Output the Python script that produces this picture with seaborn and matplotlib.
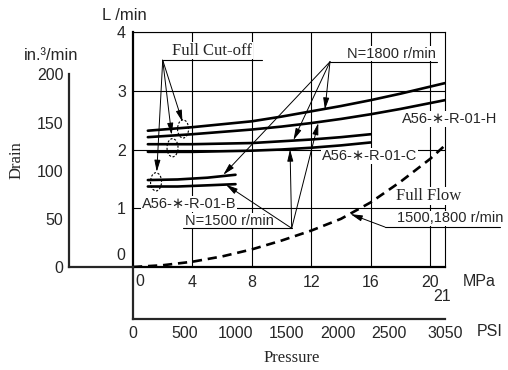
import numpy as np
import pandas as pd
import seaborn as sns
import matplotlib
matplotlib.use("Agg")
from matplotlib import pyplot as plt
from matplotlib.patches import Ellipse

# values: pressure (MPa) -> drain (L/min)
h_press = [1, 4, 8, 10, 12, 14, 16, 18, 21]
h_1800 = [2.32, 2.38, 2.48, 2.56, 2.65, 2.74, 2.84, 2.95, 3.13]
h_1500 = [2.21, 2.26, 2.34, 2.39, 2.45, 2.52, 2.60, 2.69, 2.84]
c_press = [1, 4, 8, 10, 12, 14, 16]
c_1800 = [2.09, 2.09, 2.11, 2.14, 2.17, 2.21, 2.26]
c_1500 = [1.96, 1.96, 1.98, 2.00, 2.03, 2.07, 2.12]
b_press = [1, 3, 5, 6.9]
b_1800 = [1.48, 1.49, 1.52, 1.57]
b_1500 = [1.37, 1.37, 1.39, 1.41]
flow_press = [0, 2, 4, 6, 8, 10, 12, 14, 16, 18, 20, 21]
flow_drain = [0, 0.03, 0.09, 0.18, 0.30, 0.45, 0.62, 0.82, 1.10, 1.45, 1.84, 2.07]

mpa_ticks = [4, 8, 12, 16, 20]
lmin_ticks = [1, 2, 3, 4]
in3_ticks = [0, 50, 100, 150, 200]
psi_ticks = [0, 500, 1000, 1500, 2000, 2500]
L_TO_IN3 = 61.024
MPA_TO_PSI = 145.04
PSI_MAX = 21 * MPA_TO_PSI

SANS = ['Liberation Sans', 'DejaVu Sans']
SERIF = ['Liberation Serif', 'DejaVu Serif']

sns.set_style("white")
plt.rcParams['font.family'] = SANS

W, H = 508, 370
fig = plt.figure(figsize=(W / 100, H / 100), dpi=100)
ax = fig.add_axes([133 / W, 103 / H, 312 / W, 235 / H])

# curves
curves = pd.DataFrame({
    'press': h_press + h_press + c_press + c_press + b_press + b_press,
    'drain': h_1800 + h_1500 + c_1800 + c_1500 + b_1800 + b_1500,
    'curve': (['H1800'] * len(h_press) + ['H1500'] * len(h_press)
              + ['C1800'] * len(c_press) + ['C1500'] * len(c_press)
              + ['B1800'] * len(b_press) + ['B1500'] * len(b_press)),
})
sns.lineplot(data=curves, x='press', y='drain', units='curve', estimator=None,
             color='black', lw=1.9, ax=ax, zorder=3)
sns.lineplot(x=flow_press, y=flow_drain, color='black', lw=1.9,
             linestyle=(0, (3.5, 2.2)), ax=ax, zorder=3)

ax.set_xlim(0, 21)
ax.set_ylim(0, 4)
ax.set_xlabel('')
ax.set_ylabel('')
for s in ['top', 'right']:
    ax.spines[s].set_linewidth(0.8)
for s in ['left', 'bottom']:
    ax.spines[s].set_linewidth(1.6)
for s in ax.spines.values():
    s.set_color('black')

ax.set_xticks(mpa_ticks)
ax.set_xticks([2, 6, 10, 14, 18], minor=True)
ax.set_yticks(lmin_ticks)
ax.set_yticks(np.arange(0.2, 4, 0.2), minor=True)
ax.tick_params(which='major', direction='in', length=0, labelsize=11.5)
ax.tick_params(axis='x', which='major', pad=6)
ax.tick_params(axis='y', which='major', pad=5)
ax.tick_params(which='minor', direction='in', length=4.3, width=0.8, color='black')
ax.grid(True, which='major', color='black', lw=0.8)
ax.set_axisbelow(True)
ax.text(0.47, -0.255, '0', ha='center', va='center', fontsize=11.5)
ax.text(-0.81, 0.19, '0', ha='center', va='center', fontsize=11.5)
ax.text(20.8, -0.51, '21', ha='center', va='center', fontsize=11.5)
ax.text(22.2, -0.255, 'MPa', ha='left', va='center', fontsize=11.5)

# left in.3/min scale
ax_in = fig.add_axes([69 / W, 103 / H, 64 / W, 235 / H])
ax_in.patch.set_visible(False)
ax_in.set_ylim(0, 4 * L_TO_IN3)
ax_in.set_xlim(0, 1)
ax_in.set_xticks([])
ax_in.set_yticks(in3_ticks)
ax_in.spines['top'].set_visible(False)
ax_in.spines['right'].set_visible(False)
ax_in.spines['left'].set_bounds(0, 200)
ax_in.spines['left'].set_linewidth(1.6)
ax_in.spines['bottom'].set_linewidth(1.6)
ax_in.tick_params(axis='y', direction='in', length=9.4, width=1, labelsize=11.5, pad=4)

# PSI scale
ax_psi = fig.add_axes([133 / W, 51 / H, 312 / W, 52 / H])
ax_psi.patch.set_visible(False)
ax_psi.set_xlim(0, PSI_MAX)
ax_psi.set_yticks([])
ax_psi.set_xticks(psi_ticks + [PSI_MAX])
ax_psi.set_xticklabels([str(p) for p in psi_ticks] + ['3050'])
ax_psi.spines['top'].set_visible(False)
ax_psi.spines['right'].set_visible(False)
ax_psi.spines['left'].set_linewidth(1.6)
ax_psi.spines['bottom'].set_linewidth(1.6)
ax_psi.tick_params(axis='x', direction='in', length=8.6, width=1, labelsize=11.5, pad=5)
ax.text(23.15, -1.106, 'PSI', ha='left', va='center', fontsize=11.5)
ax.text(10.7, -1.55, 'Pressure', ha='center', va='center', fontsize=12, family=SERIF)

fig.text(17 / W, 1 - 160 / H, 'Drain', rotation=90, ha='center', va='center',
         fontsize=12, family=SERIF)
fig.text(51 / W, 1 - 55 / H, 'in.³/min', ha='center', va='center', fontsize=12)
fig.text(102 / W, 1 - 16 / H, 'L /min', ha='left', va='center', fontsize=12)

# cut-off ellipses
for cx, cy in [(3.37, 2.35), (2.66, 2.03), (1.55, 1.45)]:
    ax.add_patch(Ellipse((cx, cy), 0.74, 0.31, fill=False, ls=(0, (2, 1.5)),
                         lw=0.8, color='black', zorder=4))

def arrow(tip, origin):
    ax.annotate('', xy=tip, xytext=origin,
                arrowprops=dict(arrowstyle='-|>,head_length=0.7,head_width=0.18',
                                color='black', lw=0.7, shrinkA=0, shrinkB=0,
                                mutation_scale=10), zorder=4)

def underline(x0, x1, y):
    ax.plot([x0, x1], [y, y], color='black', lw=0.8, clip_on=False, zorder=4)

box = dict(facecolor='white', edgecolor='none', pad=0.5)

ax.text(2.63, 3.68, 'Full Cut-off', ha='left', va='center', fontsize=12,
        family=SERIF, bbox=box, zorder=2.7)
underline(2.0, 8.7, 3.52)
for tip in [(3.33, 2.47), (2.6, 2.25), (1.6, 1.62)]:
    arrow(tip, (2.0, 3.52))

ax.text(14.4, 3.63, 'N=1800 r/min', ha='left', va='center', fontsize=10.5,
        bbox=box, zorder=2.7)
underline(13.26, 20.46, 3.494)
for tip in [(12.92, 2.68), (10.8, 2.16), (6.08, 1.57)]:
    arrow(tip, (13.26, 3.494))

ax.text(3.5, 0.78, 'N=1500 r/min', ha='left', va='center', fontsize=10.5,
        bbox=box, zorder=2.7)
underline(3.37, 10.68, 0.659)
for tip in [(10.57, 2.0), (12.47, 2.45), (6.26, 1.40)]:
    arrow(tip, (10.68, 0.659))

ax.text(18.1, 2.52, 'A56-∗-R-01-H', ha='left', va='center', fontsize=10.5,
        bbox=box, zorder=2.7)
ax.text(12.72, 1.89, 'A56-∗-R-01-C', ha='left', va='center', fontsize=10.5,
        bbox=box, zorder=2.7)
ax.text(0.6, 1.07, 'A56-∗-R-01-B', ha='left', va='center', fontsize=10.5,
        bbox=box, zorder=2.7)

ax.text(17.7, 1.21, 'Full Flow', ha='left', va='center', fontsize=12,
        family=SERIF, bbox=box, zorder=2.7)
ax.text(17.77, 0.83, '1500,1800 r/min', ha='left', va='center', fontsize=10.5,
        bbox=box, zorder=2.7)
underline(16.96, 24.7, 0.68)
arrow((14.65, 0.90), (16.96, 0.68))

fig.savefig('out.png', dpi=100)
